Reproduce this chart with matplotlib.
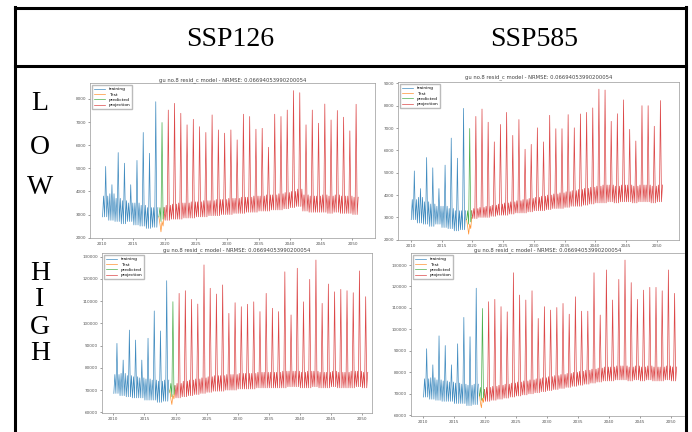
import matplotlib.pyplot as plt
from matplotlib.lines import Line2D
import numpy as np

W, H = 692, 432

# ---- data ----
months = np.array([1, 3, 5, 7, 9, 11]) / 12
train_years = list(range(2010, 2019))
proj_years = list(range(2020, 2051))
x_ticks = [2010, 2015, 2020, 2025, 2030, 2035, 2040, 2045, 2050]

# upper row (LOW)
low_train_peak = [5080, 4290, 5680, 5220, 4290, 5340, 6550, 5650, 7880]
low_train_low = [2900, 2750, 2700, 2600, 2700, 2550, 2500, 2400, 2450]
low_train_mid = [3800, 3900, 3700, 3600, 3500, 3500, 3400, 3300, 3300]
low_test = [2900, 2600, 2250, 2700, 2500, 3000]
low_pred = [2900, 3300, 2700, 6980, 2800, 3300]

low_126_peak = [7520, 7810, 7380, 6880, 7120, 6800, 6550, 7310, 6660, 6520, 6660,
                6230, 7340, 7240, 6690, 6730, 5910, 7340, 7240, 7520, 8360, 8270,
                6880, 7520, 6950, 7780, 7090, 7500, 7210, 6620, 7770]
low_126_low = [2750, 2800, 2800, 2850, 2850, 2900, 2900, 2950, 2950, 3000, 3000,
               3050, 3050, 3100, 3100, 3150, 3150, 3200, 3200, 3250, 3300, 3350,
               3150, 3100, 3100, 3100, 3050, 3100, 3050, 3050, 3000]
low_126_mid = [3400, 3450, 3500, 3500, 3550, 3550, 3600, 3600, 3650, 3650, 3700,
               3700, 3750, 3750, 3800, 3800, 3850, 3850, 3900, 3950, 4000, 4100,
               3850, 3800, 3800, 3850, 3800, 3850, 3800, 3800, 3750]

low_585_peak = [7520, 7850, 7260, 6380, 7160, 7700, 6670, 7380, 6050, 6270, 7010,
                6380, 7570, 6970, 6970, 7600, 7010, 7630, 7700, 7900, 8740, 8700,
                7300, 7640, 8260, 6940, 6420, 8000, 8000, 7080, 8230]
low_585_low = [2950, 3000, 3000, 3050, 3100, 3100, 3150, 3200, 3200, 3250, 3300,
               3300, 3350, 3400, 3400, 3450, 3500, 3500, 3550, 3600, 3650, 3650,
               3700, 3650, 3700, 3700, 3650, 3700, 3700, 3650, 3700]
low_585_mid = [3400, 3450, 3500, 3550, 3600, 3650, 3700, 3750, 3800, 3850, 3900,
               3950, 4000, 4050, 4100, 4150, 4200, 4250, 4300, 4350, 4400, 4450,
               4450, 4400, 4450, 4450, 4400, 4450, 4450, 4400, 4450]

# lower row (HIGH)
high_train_peak = [91000, 83500, 97000, 92500, 83500, 93300, 105600, 96600, 119200]
high_train_low = [68500, 67500, 67000, 66500, 66500, 65500, 65500, 64500, 65000]
high_train_mid = [77000, 77500, 76500, 76000, 75500, 75000, 74500, 74000, 74500]
high_test = [70000, 66000, 63500, 68000, 66000, 70000]
high_pred = [69000, 73000, 67000, 109750, 68000, 72000]

high_126_peak = [113500, 114700, 110800, 108700, 126300, 115800, 113200, 117300,
                 104500, 109300, 107500, 108600, 109700, 105300, 113500, 106800,
                 105300, 123200, 103800, 124800, 109700, 119800, 128500, 109000,
                 117700, 114200, 115300, 114700, 113800, 123600, 112000]
high_126_low = [66500, 67000, 67500, 68000, 68500, 69000, 69500, 69500, 70000,
                70000, 70500, 70500, 70500, 71000, 71000, 71000, 71000, 71000,
                71500, 71500, 71000, 71000, 71500, 71000, 71000, 71500, 71000,
                71000, 71000, 71500, 71000]
high_126_mid = [73000, 74000, 74500, 75000, 75500, 76000, 76500, 76500, 77000,
                77000, 77500, 77500, 77500, 78000, 78000, 78000, 78000, 78500,
                78500, 78500, 78000, 78500, 78500, 78000, 78000, 78500, 78000,
                78000, 78500, 78500, 78000]

high_585_peak = [112900, 114000, 110600, 108200, 126400, 116000, 113700, 118000,
                 105100, 110600, 109000, 110200, 112100, 107100, 115200, 108500,
                 108500, 126400, 106700, 127700, 113700, 123300, 132300, 121800,
                 114000, 118300, 119600, 119600, 118000, 127700, 116800]
high_585_low = [66500, 67000, 67500, 68000, 68500, 69000, 69500, 70000, 70500,
                71000, 71500, 72000, 72500, 73000, 73500, 74000, 74500, 75000,
                75500, 76000, 76000, 76500, 76500, 76000, 76500, 76000, 76500,
                76000, 76000, 76500, 76000]
high_585_mid = [73000, 73500, 74000, 74500, 75000, 75500, 76000, 76500, 77000,
                77500, 78000, 78500, 79000, 79500, 80000, 80500, 81000, 81500,
                82000, 82500, 82500, 83000, 83000, 82500, 83000, 82500, 83000,
                82500, 82500, 83000, 82500]

title = 'gu no.8 resid_c model - NRMSE: 0.06694053990200054'


def yearly(years, low, mid, peak):
    xs, ys = [], []
    for yr, lo, mi, pk in zip(years, low, mid, peak):
        xs += list(yr + months)
        ys += [lo, mi, lo, pk, lo, mi]
    return xs, ys


def px_axes(fig, x0, y0, x1, y1):
    return fig.add_axes([x0 / W, 1 - y1 / H, (x1 - x0) / W, (y1 - y0) / H])


def panel(ax, train, test, pred, proj, xlim, ylim, yticks, title_y):
    tx, ty = yearly(train_years, *train)
    px, py = yearly(proj_years, *proj)
    sx = list(2019 + months)
    kw = dict(lw=0.5, alpha=0.85)
    ax.plot(tx, ty, color='tab:blue', label='training', **kw)
    ax.plot(sx, test, color='tab:orange', label='Test', **kw)
    ax.plot(sx, pred, color='tab:green', label='predicted', **kw)
    ax.plot([sx[-1]] + px, [pred[-1]] + py, color='tab:red', label='projection', **kw)
    ax.set_xlim(*xlim)
    ax.set_ylim(*ylim)
    ax.set_xticks(x_ticks)
    ax.set_yticks(yticks)
    ax.tick_params(labelsize=3, length=1.5, width=0.4, pad=1.5, colors='#555555')
    for s in ax.spines.values():
        s.set_linewidth(0.5)
        s.set_color('#999999')
    ax.legend(loc='upper left', fontsize=3.2, frameon=True, handlelength=2.5,
              borderpad=0.4, labelspacing=0.3, fancybox=False, framealpha=1,
              edgecolor='#bbbbbb')
    ax.set_title(title, fontsize=3.8, pad=title_y, color='#444444')


fig = plt.figure(figsize=(W / 100, H / 100), dpi=100)

ax = px_axes(fig, 90, 83, 375, 238)
panel(ax, (low_train_low, low_train_mid, low_train_peak), low_test, low_pred,
      (low_126_low, low_126_mid, low_126_peak), (2008.08, 2053.6), (1985, 8690),
      range(2000, 9000, 1000), 1.5)

ax = px_axes(fig, 398, 82, 679, 240)
panel(ax, (low_train_low, low_train_mid, low_train_peak), low_test, low_pred,
      (low_585_low, low_585_mid, low_585_peak), (2007.93, 2053.6), (1990, 9060),
      range(2000, 10000, 1000), 2.5)

ax = px_axes(fig, 102, 253, 372, 413)
panel(ax, (high_train_low, high_train_mid, high_train_peak), high_test, high_pred,
      (high_126_low, high_126_mid, high_126_peak), (2008.18, 2051.6), (59690, 131660),
      range(60000, 140000, 10000), 1.0)

ax = px_axes(fig, 411, 253, 684, 416)
panel(ax, (high_train_low, high_train_mid, high_train_peak), high_test, high_pred,
      (high_585_low, high_585_mid, high_585_peak), (2008.06, 2052.1), (59670, 135600),
      range(60000, 140000, 10000), 1.0)
ax.spines['right'].set_visible(False)

# table frame
lw = 2.2
for (x0, y0, x1, y1) in [(15, 8, 686, 8), (15, 66, 686, 66), (15, 7, 15, 432), (686, 7, 686, 432)]:
    fig.add_artist(Line2D([x0 / W, x1 / W], [1 - y0 / H, 1 - y1 / H], color='black', lw=lw))

serif = 'Liberation Serif'
fig.text(230 / W, 1 - 40 / H, 'SSP126', fontsize=20, family=serif, ha='center', va='center')
fig.text(534 / W, 1 - 40 / H, 'SSP585', fontsize=20, family=serif, ha='center', va='center')
for ch, y in zip('LOWHIGH', [103, 147, 187, 273, 300, 327, 353]):
    fig.text(40 / W, 1 - y / H, ch, fontsize=20, family=serif, ha='center', va='center')

fig.savefig('out.png', dpi=100)
